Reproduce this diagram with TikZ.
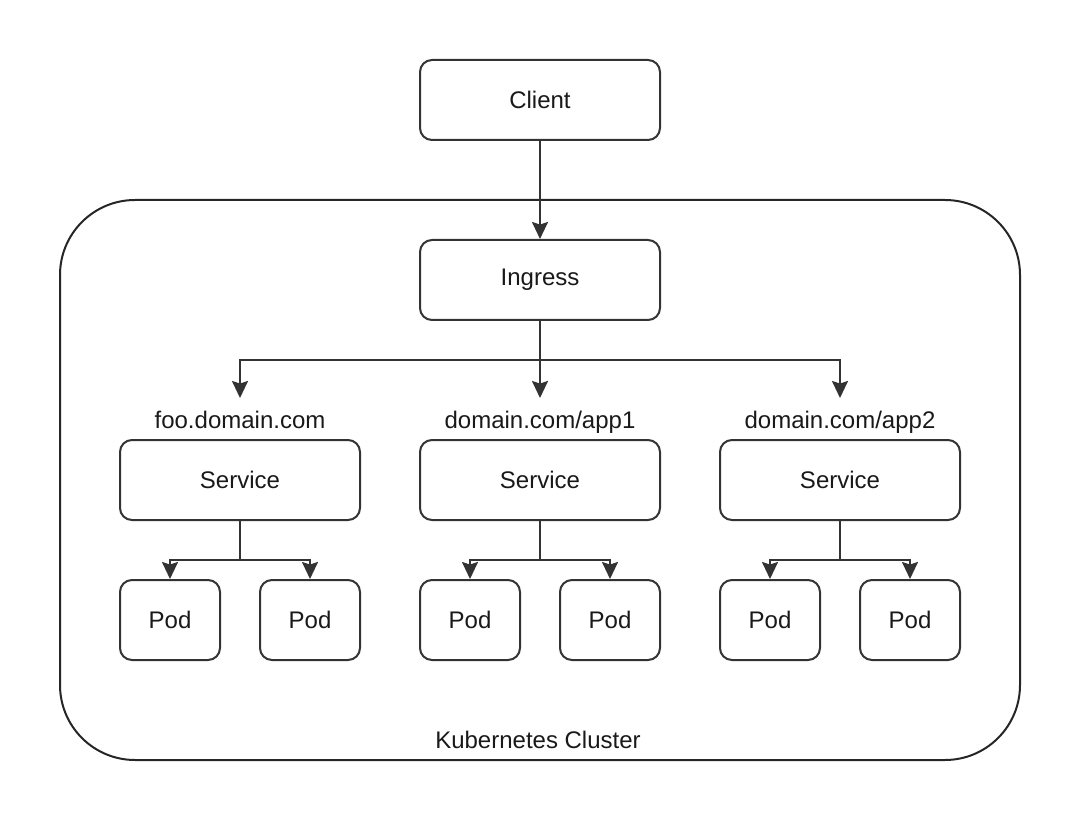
\documentclass[tikz,border=0pt]{standalone}
\usepackage{fontspec}
\setmainfont{Liberation Sans}
\usetikzlibrary{arrows.meta,positioning}

\begin{document}
\begin{tikzpicture}[x=1pt,y=-1pt,->,>={Stealth[length=17pt,width=16pt,inset=2.5pt]},
                    line width=2pt,draw=black!80,
                    font=\fontsize{24}{28}\selectfont]
  \tikzstyle{box}=[draw=black!80,fill=white,rounded corners=12pt,inner sep=0pt,
                   minimum width=240pt,minimum height=80pt,text=black!90]
  \tikzstyle{pod}=[box,minimum width=100pt]
  \tikzstyle{host}=[anchor=base,inner sep=0pt,text=black!90]

  \useasboundingbox (0,0) rectangle (1090,818);

  % cluster
  \draw[-,black!85,rounded corners=75pt] (60,200) rectangle (1020,760);
  \node[host] (cluster) at (538,748) {Kubernetes Cluster};

  \node[box] (client)  at (540,100) {Client};
  \node[box] (ingress) at (540,280) {Ingress};

  \node[box] (svcfoo)  at (240,480) {Service};
  \node[box] (svcapp1) at (540,480) {Service};
  \node[box] (svcapp2) at (840,480) {Service};

  \node[host] (hostfoo)  at (240,428) {foo.domain.com};
  \node[host] (hostapp1) at (540,428) {domain.com/app1};
  \node[host] (hostapp2) at (840,428) {domain.com/app2};

  \node[pod] (podfooa)  at (170,620) {Pod};
  \node[pod] (podfoob)  at (310,620) {Pod};
  \node[pod] (podapp1a) at (470,620) {Pod};
  \node[pod] (podapp1b) at (610,620) {Pod};
  \node[pod] (podapp2a) at (770,620) {Pod};
  \node[pod] (podapp2b) at (910,620) {Pod};

  \coordinate (split) at (540,360);
  \coordinate (tipfoo)  at (240,398);
  \coordinate (tipapp1) at (540,398);
  \coordinate (tipapp2) at (840,398);

  \draw (client) -- (ingress);
  \draw[-] (ingress) -- (split);
  \draw (split) -| (tipfoo);
  \draw (split) -- (tipapp1);
  \draw (split) -| (tipapp2);

  \draw (svcfoo.south) |- ++(0,39) -| (podfooa);
  \draw (svcfoo.south) |- ++(0,39) -| (podfoob);
  \draw (svcapp1.south) |- ++(0,39) -| (podapp1a);
  \draw (svcapp1.south) |- ++(0,39) -| (podapp1b);
  \draw (svcapp2.south) |- ++(0,39) -| (podapp2a);
  \draw (svcapp2.south) |- ++(0,39) -| (podapp2b);
\end{tikzpicture}
\end{document}
